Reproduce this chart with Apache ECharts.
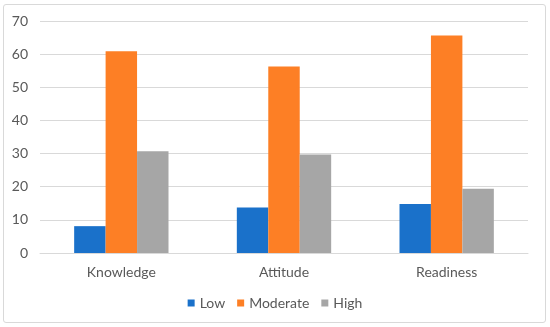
<!DOCTYPE html>
<html>
<head>
<meta charset="utf-8">
<script src="https://cdn.jsdelivr.net/npm/echarts@6/dist/echarts.min.js"></script>
<style>
html,body{margin:0;padding:0;background:#fff;}
#frame{position:absolute;left:3px;top:4px;width:541px;height:317px;border:1px solid #d9d9d9;border-radius:3px;}
#chart{position:absolute;left:0;top:0;width:550px;height:327px;}
</style>
</head>
<body>
<div id="frame"></div>
<div id="chart"></div>
<script>
var categories = ["Knowledge", "Attitude", "Readiness"];
var lowValues = [8.1, 13.7, 14.8];
var moderateValues = [60.9, 56.3, 65.6];
var highValues = [30.7, 29.7, 19.4];
var yTicks = [0, 10, 20, 30, 40, 50, 60, 70];

var chart = echarts.init(document.getElementById('chart'), null, {renderer: 'canvas'});
var font = "Lato, 'Open Sans', sans-serif";
chart.setOption({
  animation: false,
  textStyle: {fontFamily: font},
  grid: {left: 40, right: 22, top: 21, bottom: 74, containLabel: false},
  legend: {
    data: ["Low", "Moderate", "High"],
    top: 291,
    left: 'center',
    icon: 'rect',
    itemWidth: 7,
    itemHeight: 7,
    itemGap: 12,
    textStyle: {color: '#595959', fontSize: 14, fontFamily: font}
  },
  xAxis: {
    type: 'category',
    data: categories,
    axisTick: {show: false},
    axisLine: {lineStyle: {color: '#d9d9d9', width: 1}},
    axisLabel: {color: '#595959', fontSize: 14, margin: 12, fontFamily: font}
  },
  yAxis: {
    type: 'value',
    min: yTicks[0],
    max: yTicks[yTicks.length - 1],
    interval: 10,
    axisLine: {show: false},
    axisTick: {show: false},
    splitLine: {lineStyle: {color: '#d9d9d9', width: 1}},
    axisLabel: {color: '#595959', fontSize: 14, margin: 12, fontFamily: font}
  },
  series: [
    {name: "Low", type: 'bar', data: lowValues, itemStyle: {color: '#1A71CA'}, barGap: '0%', barCategoryGap: '42%'},
    {name: "Moderate", type: 'bar', data: moderateValues, itemStyle: {color: '#FD7F25'}, barGap: '0%', barCategoryGap: '42%'},
    {name: "High", type: 'bar', data: highValues, itemStyle: {color: '#A6A6A6'}, barGap: '0%', barCategoryGap: '42%'}
  ]
});
</script>
</body>
</html>
